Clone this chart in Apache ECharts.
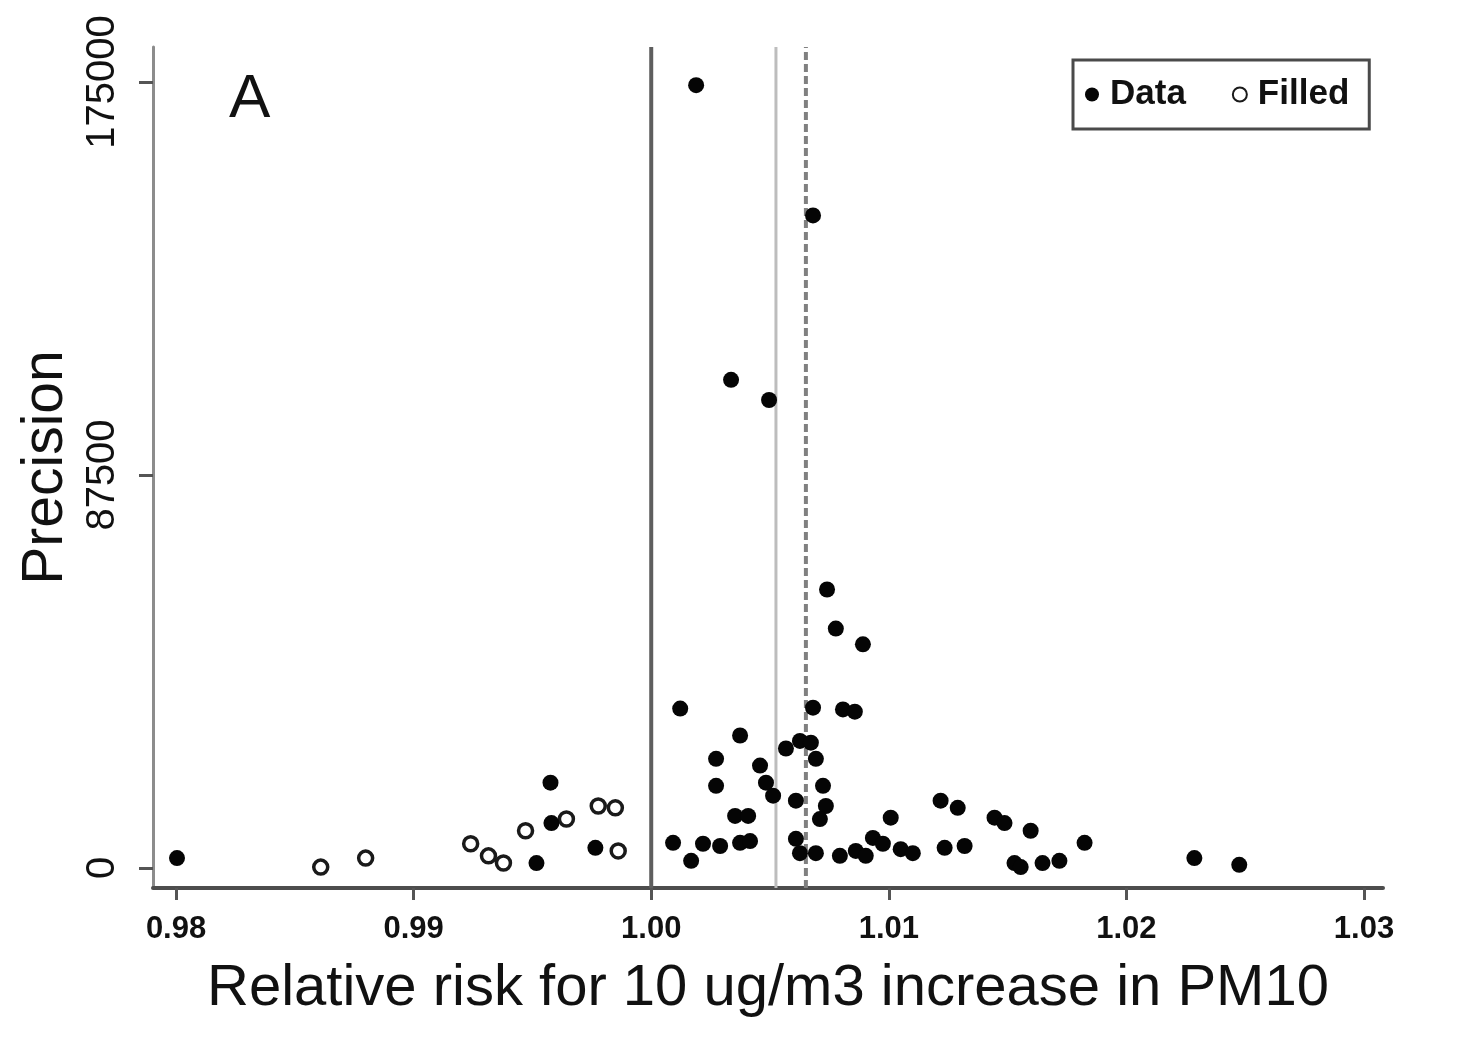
<!DOCTYPE html>
<html>
<head>
<meta charset="utf-8">
<script src="https://cdn.jsdelivr.net/npm/echarts@6/dist/echarts.min.js"></script>
<style>
html,body{margin:0;padding:0;background:#ffffff;}
#chart{width:1460px;height:1056px;}
</style>
</head>
<body>
<div id="chart"></div>
<script>
// ---- data ----
const xTicks = [0.98, 0.99, 1.00, 1.01, 1.02, 1.03];
const yTicks = [0, 87500, 175000];

// observed studies ("Data", filled dots): relative risk, precision
const dataRR = [0.98004,0.99517,0.99576,0.9958,0.99765,1.00189,1.00681,1.00336,1.00496,1.0074,
  1.00777,1.00891,1.00122,1.00681,1.00807,1.00857,1.00374,1.00273,1.00273,1.00458,
  1.00483,1.00513,1.00567,1.00626,1.00672,1.00693,1.00609,1.00723,1.00735,1.0071,
  1.00353,1.00408,1.00092,1.00168,1.00218,1.0029,1.00374,1.00416,1.00609,1.00626,
  1.00693,1.00794,1.00861,1.00933,1.00903,1.01008,1.00975,1.0105,1.01101,1.01218,
  1.0129,1.01235,1.01319,1.01445,1.01487,1.01597,1.01529,1.01555,1.01647,1.01718,
  1.01824,1.02286,1.02475];
const dataPrec = [2200,1100,19000,10000,4500,174300,145300,108700,104200,62000,
  53300,49800,35500,35700,35300,34800,29500,24300,18300,22800,
  19000,16100,26600,28300,27900,24300,15000,18300,13800,10900,
  11600,11600,5600,1600,5400,4900,5600,6000,6500,3300,
  3300,2700,3800,6700,2700,11200,5400,4200,3300,15000,
  13400,4500,4900,11200,10000,8300,1100,200,1100,1600,
  5600,2200,700];

// imputed studies ("Filled", hollow dots)
const filledRR = [0.98609,0.98798,0.9924,0.99315,0.99378,0.99471,0.99643,0.99777,0.99849,0.99861];
const filledPrec = [200,2200,5400,2700,1100,8300,10900,13800,13400,3800];

// reference lines: null effect, pooled estimates
const refLineValues = [1.0, 1.00525, 1.00651];

const legendNames = ['Data', 'Filled'];
const xTitle = 'Relative risk for 10 ug/m3 increase in PM10';
const yTitle = 'Precision';
const panelLabel = 'A';

// ---- chart ----
const FONT = "'Liberation Sans', Arial, sans-serif";
const zip = (a, b) => a.map((v, i) => [v, b[i]]);
const X_MIN = 0.97903, X_MAX = 1.0308, Y_MIN = -4453, Y_MAX = 182793;

const refStyles = [
  {color: '#5e5e5e', width: 4, type: 'solid'},
  {color: '#bdbdbd', width: 3, type: 'solid'},
  {color: '#808080', width: 4, type: [8, 4]}
];
const refSeries = refLineValues.map((v, i) => ({
  name: 'ref' + i,
  type: 'line',
  data: [[v, Y_MIN], [v, Y_MAX]],
  symbol: 'none',
  silent: true,
  z: 1,
  lineStyle: refStyles[i]
}));

const chart = echarts.init(document.getElementById('chart'), null, {renderer: 'canvas'});
chart.setOption({
  backgroundColor: '#ffffff',
  animation: false,
  title: {
    text: panelLabel,
    left: 224, top: 64,
    textStyle: {fontFamily: FONT, fontSize: 62, fontWeight: 'normal', color: '#111111'}
  },
  legend: {
    data: legendNames,
    left: 1073, top: 60,
    orient: 'horizontal',
    padding: [17, 20, 17, 12],
    itemGap: 46,
    itemWidth: 14, itemHeight: 14,
    borderColor: '#4a4a4a', borderWidth: 3,
    backgroundColor: '#ffffff',
    textStyle: {fontFamily: FONT, fontSize: 35, fontWeight: 'bold', color: '#111111', padding: [0, 0, 0, 6]}
  },
  grid: {left: 153, top: 47, width: 1230, height: 841, containLabel: false},
  xAxis: {
    type: 'value',
    min: X_MIN, max: X_MAX,
    name: xTitle,
    nameLocation: 'middle',
    nameGap: 72,
    nameTextStyle: {fontFamily: FONT, fontSize: 58, color: '#111111'},
    axisLine: {show: true, onZero: false, lineStyle: {color: '#4d4d4d', width: 4}},
    axisTick: {show: true, customValues: xTicks, length: 12, lineStyle: {color: '#555', width: 3}},
    axisLabel: {
      customValues: xTicks,
      formatter: v => v.toFixed(2),
      margin: 26,
      fontFamily: FONT, fontSize: 31, fontWeight: 'bold', color: '#111111'
    },
    splitLine: {show: false}
  },
  yAxis: {
    type: 'value',
    min: Y_MIN, max: Y_MAX,
    name: yTitle,
    nameLocation: 'middle',
    nameGap: 76,
    nameRotate: 90,
    nameTextStyle: {fontFamily: FONT, fontSize: 57, color: '#111111'},
    axisLine: {show: true, onZero: false, lineStyle: {color: '#8c8c8c', width: 3}},
    axisTick: {show: true, customValues: yTicks, length: 14, lineStyle: {color: '#555', width: 3}},
    axisLabel: {
      customValues: yTicks,
      rotate: 90,
      margin: 30,
      formatter: v => String(Math.round(v)),
      fontFamily: FONT, fontSize: 40, color: '#111111'
    },
    splitLine: {show: false}
  },
  series: refSeries.concat([
    {
      name: legendNames[1],
      type: 'scatter',
      z: 3,
      data: zip(filledRR, filledPrec),
      symbol: 'circle',
      symbolSize: 14,
      itemStyle: {color: '#ffffff', borderColor: '#1a1a1a', borderWidth: 3.5, opacity: 1}
    },
    {
      name: legendNames[0],
      type: 'scatter',
      z: 4,
      data: zip(dataRR, dataPrec),
      symbol: 'circle',
      symbolSize: 16,
      itemStyle: {color: '#050505', opacity: 1}
    }
  ])
});
</script>
</body>
</html>
